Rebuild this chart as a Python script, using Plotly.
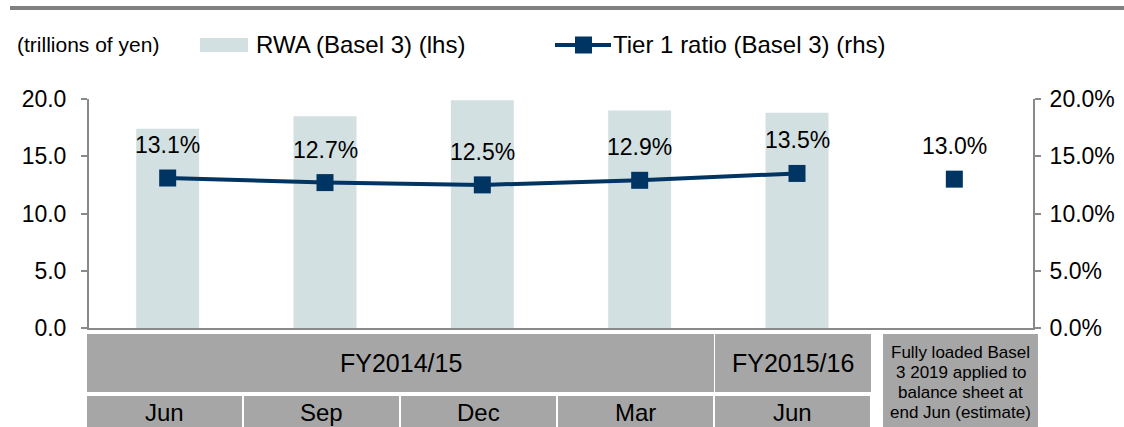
import plotly.graph_objects as go

# ---------------- data ----------------
categories = ["Jun", "Sep", "Dec", "Mar", "Jun", "Fully loaded"]
rwa_values = [17.4, 18.5, 19.9, 19.0, 18.8, None]          # trillions of yen (lhs)
tier1_values = [13.1, 12.7, 12.5, 12.9, 13.5, None]        # % (rhs)
tier1_estimate = [None, None, None, None, None, 13.0]      # % (rhs), fully loaded estimate
fy_labels = ["FY2014/15", "FY2015/16"]
fy_spans = [(0, 3), (4, 4)]
month_labels = ["Jun", "Sep", "Dec", "Mar", "Jun"]
estimate_lines = ["Fully loaded Basel", "3 2019 applied to", "balance sheet at", "end Jun (estimate)"]
left_ticks = [0, 5, 10, 15, 20]
right_ticks = [0, 5, 10, 15, 20]
units_label = "(trillions of yen)"
bar_name = "RWA (Basel 3) (lhs)"
line_name = "Tier 1 ratio (Basel 3) (rhs)"

# ---------------- style ----------------
W, H = 1124, 427
L, R, T, B = 89, 91, 99, 99
PW, PH = W - L - R, H - T - B
FONT = "Liberation Sans, Arial, sans-serif"
BAR_C = "#d3e0e2"
LINE_C = "#003462"
GRAY = "#a6a6a6"
AXIS_C = "#898989"


def px(x):
    return (x - L) / PW


def py(y):
    return (H - B - y) / PH


xs = list(range(len(categories)))

fig = go.Figure()
fig.add_trace(go.Bar(
    x=xs, y=rwa_values, name=bar_name, marker=dict(color=BAR_C, line=dict(width=0)),
    width=0.4, yaxis="y", showlegend=False,
))
fig.add_trace(go.Scatter(
    x=xs, y=tier1_values, name=line_name, mode="lines+markers", yaxis="y2",
    line=dict(color=LINE_C, width=4), marker=dict(symbol="square", size=17, color=LINE_C),
    connectgaps=False, showlegend=False,
))
fig.add_trace(go.Scatter(
    x=xs, y=tier1_estimate, name=line_name, mode="markers", yaxis="y2",
    marker=dict(symbol="square", size=17, color=LINE_C), showlegend=False,
))

annotations = []
# data labels
for i, v in enumerate(tier1_values):
    val = v if v is not None else tier1_estimate[i]
    annotations.append(dict(
        x=xs[i], y=val, xref="x", yref="y2", text=f"{val:.1f}%", showarrow=False,
        yshift=33, font=dict(size=23, color="black", family=FONT),
    ))

shapes = []
# top rule
shapes.append(dict(type="line", xref="paper", yref="paper", x0=px(10), x1=px(W), y0=py(8), y1=py(8),
                   line=dict(color="#808080", width=4)))

# legend (drawn)
shapes.append(dict(type="rect", xref="paper", yref="paper", x0=px(200), x1=px(248), y0=py(52), y1=py(38),
                   fillcolor=BAR_C, line=dict(width=0)))
shapes.append(dict(type="line", xref="paper", yref="paper", x0=px(555), x1=px(611), y0=py(45), y1=py(45),
                   line=dict(color=LINE_C, width=4)))
shapes.append(dict(type="rect", xref="paper", yref="paper", x0=px(575), x1=px(592), y0=py(53.5), y1=py(36.5),
                   fillcolor=LINE_C, line=dict(width=0)))
annotations.append(dict(x=px(15), y=py(45), xref="paper", yref="paper", text=units_label, showarrow=False,
                        xanchor="left", yanchor="middle", font=dict(size=21, color="black", family=FONT)))
annotations.append(dict(x=px(254), y=py(45), xref="paper", yref="paper", text=bar_name, showarrow=False,
                        xanchor="left", yanchor="middle", font=dict(size=24, color="black", family=FONT)))
annotations.append(dict(x=px(611), y=py(45), xref="paper", yref="paper", text=line_name, showarrow=False,
                        xanchor="left", yanchor="middle", font=dict(size=24, color="black", family=FONT)))

# category table
CELL_L0, CELL_STEP, CELL_W = 87, 157, 155
ROW1 = (334, 392)
ROW2 = (396, 432)
for lab, (a, b) in zip(fy_labels, fy_spans):
    x0 = CELL_L0 + CELL_STEP * a
    x1 = CELL_L0 + CELL_STEP * b + CELL_W + 1
    shapes.append(dict(type="rect", xref="paper", yref="paper", x0=px(x0), x1=px(x1), y0=py(ROW1[1]), y1=py(ROW1[0]),
                       fillcolor=GRAY, line=dict(width=0), layer="above"))
    annotations.append(dict(x=px((x0 + x1) / 2), y=py(sum(ROW1) / 2), xref="paper", yref="paper", text=lab,
                            showarrow=False, xanchor="center", yanchor="middle",
                            font=dict(size=25, color="black", family=FONT)))
for i, lab in enumerate(month_labels):
    x0 = CELL_L0 + CELL_STEP * i
    x1 = x0 + CELL_W
    shapes.append(dict(type="rect", xref="paper", yref="paper", x0=px(x0), x1=px(x1), y0=py(ROW2[1]), y1=py(ROW2[0]),
                       fillcolor=GRAY, line=dict(width=0), layer="above"))
    annotations.append(dict(x=px((x0 + x1) / 2), y=py(412), xref="paper", yref="paper", text=lab,
                            showarrow=False, xanchor="center", yanchor="middle",
                            font=dict(size=24, color="black", family=FONT)))
shapes.append(dict(type="rect", xref="paper", yref="paper", x0=px(883), x1=px(1038), y0=py(432), y1=py(334),
                   fillcolor=GRAY, line=dict(width=0), layer="above"))
for k, line in enumerate(estimate_lines):
    annotations.append(dict(x=px(960.5), y=py(352 + 20.3 * k), xref="paper", yref="paper", text=line,
                            showarrow=False, xanchor="center", yanchor="middle",
                            font=dict(size=17, color="black", family=FONT)))

fig.update_layout(
    width=W, height=H, margin=dict(l=L, r=R, t=T, b=B, autoexpand=False),
    paper_bgcolor="white", plot_bgcolor="white",
    font=dict(family=FONT, color="black"),
    bargap=0.6,
    xaxis=dict(range=[-0.5, len(categories) - 0.5], showticklabels=False, showgrid=False, zeroline=False,
               showline=True, linecolor=AXIS_C, linewidth=2, ticks=""),
    yaxis=dict(range=[0, 20], tickvals=left_ticks, ticktext=[f"{v:.1f}" for v in left_ticks],
               showgrid=False, zeroline=False,
               showline=True, linecolor=AXIS_C, linewidth=2, ticks="outside", ticklen=6, tickcolor=AXIS_C,
               tickwidth=2, tickfont=dict(size=23, color="black", family=FONT), ticklabelstandoff=10),
    yaxis2=dict(range=[0, 20], tickvals=right_ticks, ticktext=[f"{v:.1f}%" for v in right_ticks],
                overlaying="y", side="right",
                showgrid=False, zeroline=False, showline=True, linecolor=AXIS_C, linewidth=2, ticks="outside",
                ticklen=6, tickcolor=AXIS_C, tickwidth=2, tickfont=dict(size=23, color="black", family=FONT),
                ticklabelstandoff=4),
    shapes=shapes, annotations=annotations, showlegend=False,
)

fig.write_html("out.html", config={"displayModeBar": False},
               post_script="document.body.style.margin='0';document.body.style.overflow='hidden';")
